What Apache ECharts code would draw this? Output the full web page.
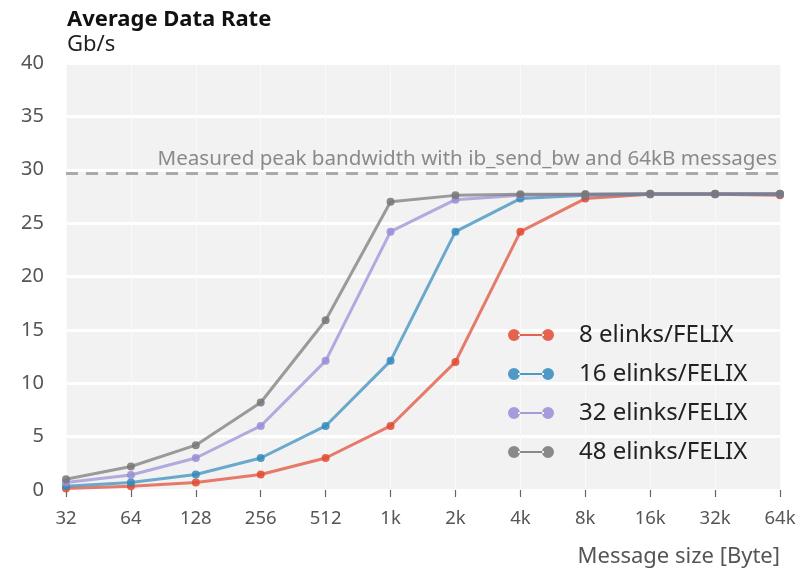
<!DOCTYPE html>
<html>
<head>
<meta charset="utf-8">
<script src="https://cdn.jsdelivr.net/npm/echarts@6/dist/echarts.min.js"></script>
<style>
  html, body { margin: 0; padding: 0; background: #fff; }
  #chart { width: 810px; height: 569px; }
</style>
</head>
<body>
<div id="chart"></div>
<script>
// Message sizes (bytes) on a log2 scale
const messageSizes = ['32', '64', '128', '256', '512', '1k', '2k', '4k', '8k', '16k', '32k', '64k'];

// Average data rate in Gb/s per e-link configuration
const rate8  = [0.15, 0.35, 0.7, 1.45, 3.0, 6.0, 12.0, 24.2, 27.3, 27.7, 27.7, 27.6];
const rate16 = [0.35, 0.7, 1.45, 3.0, 6.0, 12.1, 24.2, 27.3, 27.6, 27.7, 27.7, 27.7];
const rate32 = [0.7, 1.4, 3.0, 6.0, 12.1, 24.2, 27.2, 27.6, 27.7, 27.75, 27.75, 27.75];
const rate48 = [1.0, 2.2, 4.2, 8.2, 15.9, 27.0, 27.6, 27.7, 27.7, 27.75, 27.75, 27.75];

const seriesNames = ['8 elinks/FELIX', '16 elinks/FELIX', '32 elinks/FELIX', '48 elinks/FELIX'];
const peakBandwidth = 29.7;
const peakLabel = 'Measured peak bandwidth with ib_send_bw and 64kB messages';

const colors = ['#e24a33', '#348abd', '#988ed5', '#777777'];
const FONT = '"Noto Sans", "Open Sans", sans-serif';

// legend glyph: two dots joined by a line
const dotLineIcon = 'path://M0,6a6,6 0 1,0 12,0a6,6 0 1,0 -12,0Z M10,5H36V7H10Z M34,6a6,6 0 1,0 12,0a6,6 0 1,0 -12,0Z';

function makeSeries(name, data, idx) {
  return {
    name: name,
    type: 'line',
    data: data,
    symbol: 'circle',
    symbolSize: 8,
    lineStyle: { width: 3, opacity: 0.72 },
    itemStyle: { color: colors[idx], opacity: 0.85 },
    emphasis: { disabled: true },
    z: 3 + idx
  };
}

const series = [
  makeSeries(seriesNames[0], rate8, 0),
  makeSeries(seriesNames[1], rate16, 1),
  makeSeries(seriesNames[2], rate32, 2),
  makeSeries(seriesNames[3], rate48, 3)
];

// dashed reference line for the ib_send_bw peak
series[0].markLine = {
  silent: true,
  symbol: ['none', 'none'],
  lineStyle: { type: [12, 8], color: '#aaaaaa', width: 3 },
  label: {
    show: true,
    position: 'insideEndTop',
    formatter: peakLabel,
    fontFamily: FONT,
    fontSize: 20.6,
    color: '#8a8a8a',
    distance: 3
  },
  data: [{ yAxis: peakBandwidth }]
};

const chart = echarts.init(document.getElementById('chart'), null, { renderer: 'canvas' });
chart.setOption({
  animation: false,
  color: colors,
  title: {
    text: 'Average Data Rate',
    subtext: 'Gb/s',
    left: 62,
    top: 4,
    itemGap: 3,
    textStyle: { fontFamily: FONT, fontWeight: 'bold', fontSize: 22, color: '#111' },
    subtextStyle: { fontFamily: FONT, fontSize: 22, color: '#222' }
  },
  legend: {
    orient: 'vertical',
    left: 503,
    top: 318,
    itemWidth: 46,
    itemHeight: 13,
    itemGap: 15,
    icon: dotLineIcon,
    textStyle: { fontFamily: FONT, fontSize: 24, color: '#222', padding: [0, 0, 0, 20] },
    data: seriesNames
  },
  grid: {
    left: 66,
    right: 30,
    top: 63,
    bottom: 79,
    show: true,
    backgroundColor: '#f2f2f2',
    borderWidth: 0
  },
  xAxis: {
    type: 'category',
    data: messageSizes,
    boundaryGap: false,
    offset: 5,
    axisLine: { show: false },
    axisTick: { show: true, length: 7, alignWithLabel: true, lineStyle: { color: '#666', width: 1.2 } },
    axisLabel: { fontFamily: FONT, fontSize: 18.5, color: '#555', margin: 14 },
    splitLine: { show: true, lineStyle: { color: '#fafafa', width: 1 } },
    name: 'Message size [Byte]',
    nameLocation: 'end',
    nameGap: 0,
    nameTextStyle: {
      fontFamily: FONT, fontSize: 22, color: '#555',
      align: 'right', verticalAlign: 'top', padding: [56, 0, 0, 0]
    }
  },
  yAxis: {
    type: 'value',
    min: 0,
    max: 40,
    interval: 5,
    axisLine: { show: false },
    axisTick: { show: false },
    axisLabel: { fontFamily: FONT, fontSize: 20, color: '#555', margin: 22 },
    splitLine: { show: true, lineStyle: { color: '#ffffff', width: 3 } }
  },
  series: series
});
</script>
</body>
</html>
